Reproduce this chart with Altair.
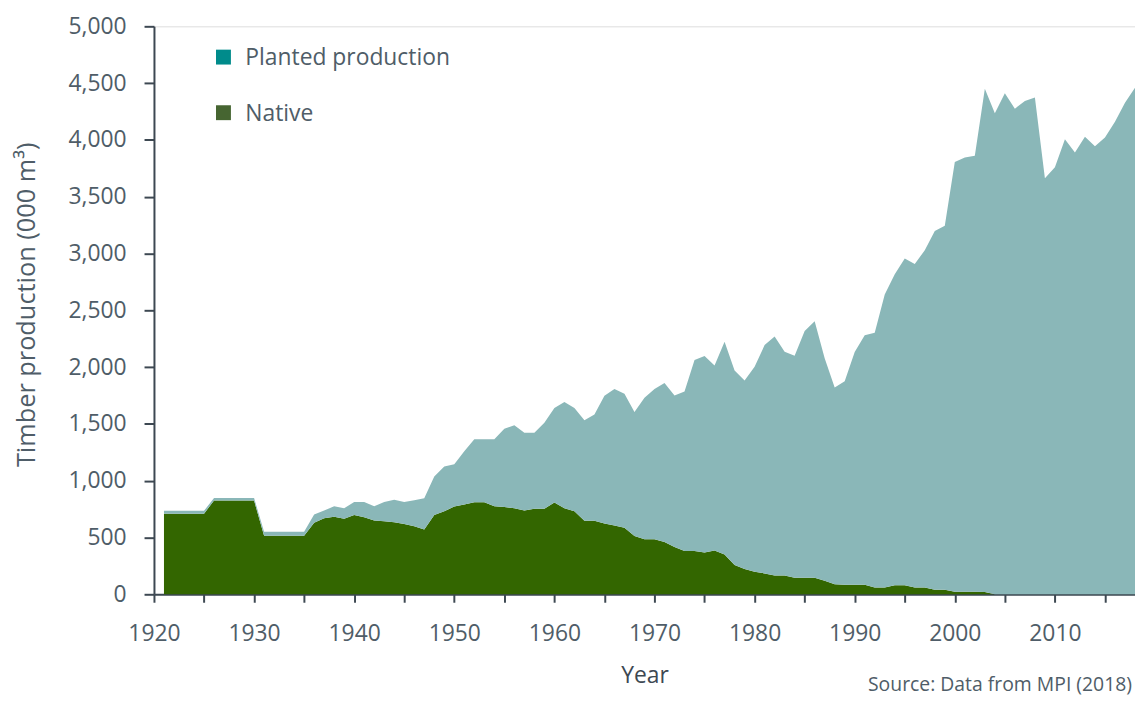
import altair as alt
import pandas as pd

years = list(range(1921, 2019))

native = [
    710, 710, 710, 710, 710,            # 1921-1925
    825, 825, 825, 825, 825,            # 1926-1930
    515, 515, 515, 515, 515,            # 1931-1935
    629, 670, 682, 664, 699,            # 1936-1940
    679, 650, 644, 635, 618,            # 1941-1945
    600, 571, 699, 731, 772,            # 1946-1950
    790, 810, 810, 775, 769,            # 1951-1955
    758, 737, 752, 752, 807,            # 1956-1960
    758, 731, 647, 647, 624,            # 1961-1965
    606, 586, 513, 484, 484,            # 1966-1970
    460, 417, 382, 382, 367,            # 1971-1975
    385, 350, 257, 222, 198,            # 1976-1980
    184, 165, 165, 145, 145,            # 1981-1985
    145, 120, 88, 85, 85,               # 1986-1990
    85, 60, 60, 80, 80,                 # 1991-1995
    60, 60, 40, 40, 22,                 # 1996-2000
    22, 22, 20, 0, 0,                   # 2001-2005
    0, 0, 0, 0, 0,                      # 2006-2010
    0, 0, 0, 0, 0,                      # 2011-2015
    0, 0, 0,                            # 2016-2018
]

planted = [
    25, 25, 25, 25, 25,                 # 1921-1925
    23, 23, 23, 23, 23,                 # 1926-1930
    35, 35, 35, 35, 35,                 # 1931-1935
    73, 67, 93, 94, 114,                # 1936-1940
    134, 125, 169, 198, 195,            # 1941-1945
    228, 274, 338, 394, 373,            # 1946-1950
    470, 554, 554, 589, 688,            # 1951-1955
    731, 685, 670, 758, 834,            # 1956-1960
    935, 910, 886, 935, 1124,           # 1961-1965
    1201, 1180, 1092, 1247, 1323,       # 1966-1970
    1399, 1334, 1404, 1681, 1731,       # 1971-1975
    1628, 1874, 1713, 1660, 1806,       # 1976-1980
    2010, 2105, 1971, 1955, 2172,       # 1981-1985
    2259, 1959, 1733, 1791, 2049,       # 1986-1990
    2196, 2243, 2580, 2738, 2876,       # 1991-1995
    2847, 2969, 3158, 3204, 3784,       # 1996-2000
    3824, 3839, 4430, 4235, 4410,       # 2001-2005
    4275, 4342, 4373, 3662, 3760,       # 2006-2010
    4005, 3889, 4027, 3944, 4021,       # 2011-2015
    4159, 4328, 4459,                   # 2016-2018
]

series_names = ["Planted production", "Native"]
area_colors = ["#8ab7b8", "#336600"]
swatch_colors = ["#008b8b", "#466531"]

x_ticks = list(range(1920, 2016, 5))
y_ticks = list(range(0, 5001, 500))

rows = []
for i, yr in enumerate(years):
    rows.append({"year": yr, "type": "Native", "value": native[i], "ord": 0})
    rows.append({"year": yr, "type": "Planted production", "value": planted[i], "ord": 1})
df = pd.DataFrame(rows)

FONT = "Open Sans"
AX = "#3d4852"
LAB = "#4f5d68"

W, H = 988, 572

areas = alt.Chart(df).mark_area(interpolate="linear").encode(
    x=alt.X(
        "year:Q",
        scale=alt.Scale(domain=[1920, 2018], nice=False, zero=False),
        axis=alt.Axis(
            title="Year",
            values=x_ticks,
            format="d",
            labelExpr="datum.value % 10 === 0 ? datum.label : ''",
            grid=False,
            domainColor=AX, domainWidth=2,
            tickColor=AX, tickWidth=2, tickSize=8,
            labelColor=LAB, labelFontSize=23, labelFont=FONT, labelPadding=21,
            labelFlush=False,
            titleColor=AX, titleFontSize=23, titleFont=FONT, titleFontWeight="normal",
            titlePadding=19,
        ),
    ),
    y=alt.Y(
        "value:Q",
        stack="zero",
        scale=alt.Scale(domain=[0, 5000], nice=False),
        axis=alt.Axis(
            title="Timber production (000 m³)",
            values=y_ticks,
            format=",d",
            grid=False,
            domainColor=AX, domainWidth=2,
            tickColor=AX, tickWidth=2, tickSize=10,
            labelColor=LAB, labelFontSize=23, labelFont=FONT, labelPadding=18,
            titleColor=LAB, titleFontSize=25.5, titleFont=FONT, titleFontWeight="normal",
            titlePadding=29, titleY=280,
        ),
    ),
    color=alt.Color(
        "type:N",
        scale=alt.Scale(domain=series_names, range=area_colors),
        legend=None,
    ),
    order=alt.Order("ord:Q", sort="ascending"),
)

legend_layers = []
legend_y = [31, 87]
for name, col, ly in zip(series_names, swatch_colors, legend_y):
    d = pd.DataFrame({"t": [name]})
    legend_layers.append(
        alt.Chart(d).mark_square(size=225, filled=True, color=col, opacity=1).encode(
            x=alt.value(70), y=alt.value(ly)
        )
    )
    legend_layers.append(
        alt.Chart(d).mark_text(
            align="left", baseline="middle", font=FONT, fontSize=23, color=LAB
        ).encode(text="t:N", x=alt.value(92), y=alt.value(ly + 1))
    )

src = alt.Chart(pd.DataFrame({"t": ["Source: Data from MPI (2018)"]})).mark_text(
    align="right", baseline="alphabetic", font=FONT, fontSize=19.5, color=LAB
).encode(text="t:N", x=alt.value(W - 3), y=alt.value(H + 97))

chart = alt.layer(areas, *legend_layers, src).properties(
    width=W,
    height=H,
    autosize=alt.AutoSizeParams(type="none"),
    padding={"left": 147, "top": 16, "right": 0, "bottom": 102},
).configure_view(stroke=None).configure(background="white")

chart.save("out.html", embed_options={"renderer": "svg", "actions": False})
